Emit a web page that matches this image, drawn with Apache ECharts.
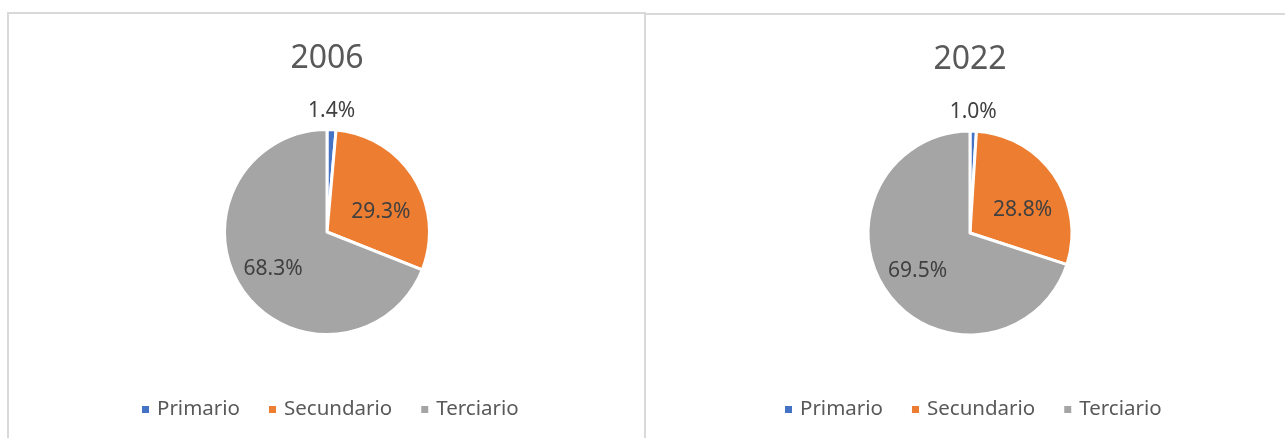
<!DOCTYPE html>
<html><head><meta charset="utf-8">
<script src="https://cdn.jsdelivr.net/npm/echarts@6/dist/echarts.min.js"></script>
<style>
html,body{margin:0;padding:0;background:#fff;width:1285px;height:438px;overflow:hidden}
.panel{position:absolute;box-sizing:border-box;border:2px solid #d9d9d9;background:#fff}
#p1{left:7px;top:12px;width:639px;height:440px}
#p2{left:644px;top:13px;width:660px;height:440px}
.chart{position:absolute;left:0;top:0;right:0;bottom:0}
</style></head><body>
<div class="panel" id="p1"><div class="chart" id="c1"></div></div>
<div class="panel" id="p2"><div class="chart" id="c2"></div></div>
<script>
const categories = ['Primario', 'Secundario', 'Terciario'];
const years = ['2006', '2022'];
const values2006 = [1.4, 29.3, 68.3];
const values2022 = [1.0, 28.8, 69.5];
const colors = ['#4472C4', '#ED7D31', '#A5A5A5'];

const FONT = 'Noto Sans';
// inside-label placement tweaks (scale from centre, rotation in degrees)
const labelAdjust = [null, { k: 1.06, rot: 11 }, { k: 1.2, rot: 0 }];

function makeOption(title, values, L) {
  const data = categories.map(function (c, i) {
    const d = { name: c, value: values[i], itemStyle: { color: colors[i] } };
    if (i === 0) {
      d.label = { position: 'outside' };
      d.labelLine = { show: false };
    }
    return d;
  });
  return {
    animation: false,
    textStyle: { fontFamily: FONT },
    title: {
      text: title,
      left: L.cx,
      top: L.titleTop,
      padding: 0,
      textAlign: 'center',
      textStyle: { fontFamily: FONT, fontSize: 32, fontWeight: 'normal', color: '#595959' }
    },
    legend: {
      data: categories,
      left: L.legendLeft,
      top: L.legendTop,
      padding: 0,
      icon: 'rect',
      itemWidth: 9,
      itemHeight: 9,
      itemGap: 27,
      textStyle: { fontFamily: FONT, fontSize: 20.5, color: '#595959', padding: [0, 0, 0, 2] }
    },
    series: [{
      type: 'pie',
      center: [L.cx, L.cy],
      radius: L.r,
      startAngle: 90,
      clockwise: true,
      avoidLabelOverlap: false,
      itemStyle: { borderColor: '#ffffff', borderWidth: 3 },
      label: {
        position: 'inside',
        fontFamily: FONT,
        fontSize: 21,
        color: '#404040',
        formatter: function (p) { return p.value.toFixed(1) + '%'; }
      },
      labelLine: { show: false },
      labelLayout: function (p) {
        if (p.dataIndex === 0) {
          return { x: p.rect.x + p.rect.width / 2, y: p.rect.y - 17, align: 'center', verticalAlign: 'middle' };
        }
        const a = labelAdjust[p.dataIndex];
        const vx = p.labelRect.x + p.labelRect.width / 2 - L.cx;
        const vy = p.labelRect.y + p.labelRect.height / 2 - L.cy;
        const t = a.rot * Math.PI / 180;
        const rx = vx * Math.cos(t) - vy * Math.sin(t);
        const ry = vx * Math.sin(t) + vy * Math.cos(t);
        return { x: L.cx + rx * a.k, y: L.cy + ry * a.k, align: 'center', verticalAlign: 'middle' };
      },
      data: data
    }]
  };
}

const c1 = echarts.init(document.getElementById('c1'));
c1.setOption(makeOption(years[0], values2006, { cx: 318, cy: 218, r: 102.5, titleTop: 29, legendLeft: 131, legendTop: 385 }));
const c2 = echarts.init(document.getElementById('c2'));
c2.setOption(makeOption(years[1], values2022, { cx: 324, cy: 218, r: 102, titleTop: 29, legendLeft: 137, legendTop: 384 }));
</script>
</body></html>
